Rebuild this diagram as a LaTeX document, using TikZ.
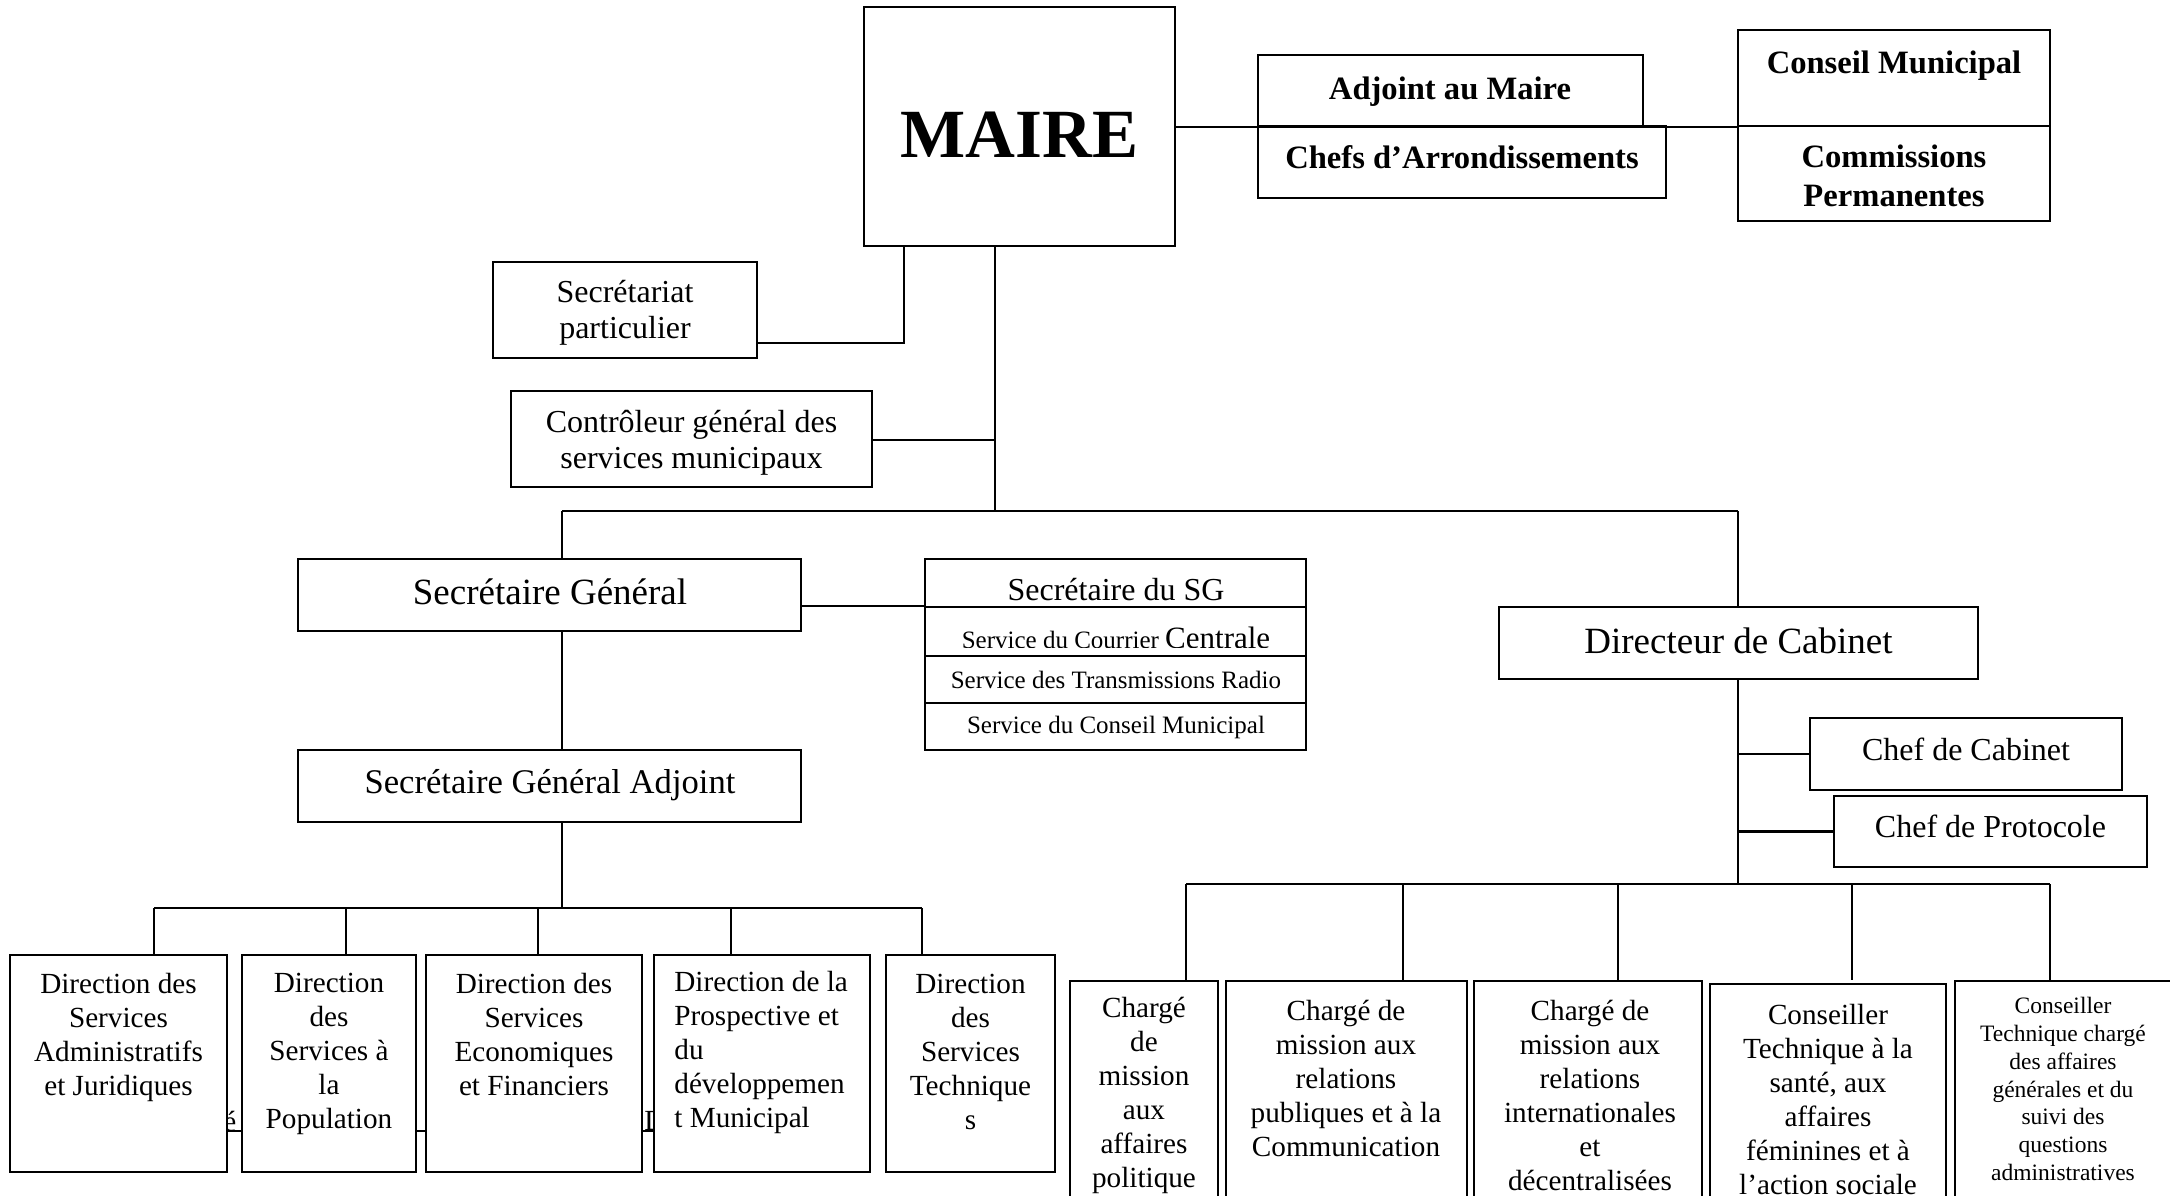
\documentclass[tikz,border=0pt]{standalone}
\usepackage{fontspec}
\setmainfont{Liberation Serif}
\usetikzlibrary{fit}
\tikzset{
  box/.style={draw, line width=1.1pt, fill=white, inner sep=0pt, rectangle},
  conn/.style={line width=1.1pt},
  txt/.style={inner sep=0pt, align=center},
  fbig/.style={font=\fontsize{34.5}{40}\selectfont\bfseries},
  fbold/.style={font=\fontsize{16.3}{19.5}\selectfont\bfseries},
  flarge/.style={font=\fontsize{18.5}{21}\selectfont},
  fsga/.style={font=\fontsize{17.3}{20}\selectfont},
  fmid/.style={font=\fontsize{16}{18.25}\selectfont},
  fserv/.style={font=\fontsize{12.5}{14}\selectfont},
  fbot/.style={font=\fontsize{14.6}{17}\selectfont},
  fsmall/.style={font=\fontsize{11.75}{13.85}\selectfont},
}
\begin{document}
\begin{tikzpicture}[x=0.5pt,y=-0.5pt]
\useasboundingbox (0,0) rectangle (2170,1195);
\clip (0,0) rectangle (2170,1195);
\fill[white] (0,0) rectangle (2170,1195);

% hidden underlined text behind the directions
\node[fbot, inner sep=0pt, anchor=west] (hid1) at (223,1121) {é};
\node[fbot, inner sep=0pt, anchor=west] (hid2) at (644,1121) {D};
\draw[line width=1.4pt] (hid1.west |- 0,1131) -- (hid2.east |- 0,1131);

% top boxes
\node[box, fit={(864,7) (1175,246)}] (maire) {};
\node[box, fit={(1258,55) (1643,126)}] (adj) {};
\node[box, fit={(1258,126) (1666,198)}] (chefs) {};
\node[box, fit={(1738,30) (2050,126)}] (cons) {};
\node[box, fit={(1738,126) (2050,221)}] (cmp) {};
\node[box, fit={(493,262) (757,358)}] (sp) {};
\node[box, fit={(511,391) (872,487)}] (ctrl) {};

% secretariat general
\node[box, fit={(298,559) (801,631)}] (sg) {};
\node[box, fit={(925,559) (1306,607)}] (st1) {};
\node[box, fit={(925,607) (1306,656)}] (st2) {};
\node[box, fit={(925,656) (1306,703)}] (st3) {};
\node[box, fit={(925,703) (1306,750)}] (st4) {};
\node[box, fit={(298,750) (801,822)}] (sga) {};

% directions
\node[box, fit={(10,955) (227,1172)}] (b1) {};
\node[box, fit={(242,955) (416,1172)}] (b2) {};
\node[box, fit={(426,955) (642,1172)}] (b3) {};
\node[box, fit={(654,955) (870,1172)}] (b4) {};
\node[box, fit={(886,955) (1055,1172)}] (b5) {};

% cabinet
\node[box, fit={(1499,607) (1978,679)}] (dc) {};
\node[box, fit={(1810,718) (2122,790)}] (cc) {};
\node[box, fit={(1834,796) (2147,867)}] (cp) {};
\node[box, fit={(1070,981) (1218,1230)}] (r1) {};
\node[box, fit={(1226,981) (1467,1230)}] (r2) {};
\node[box, fit={(1474,981) (1702,1230)}] (r3) {};
\node[box, fit={(1710,984) (1946,1230)}] (r4) {};
\node[box, fit={(1955,981) (2178,1230)}] (r5) {};

% connectors
\coordinate (j1) at (904,343);
\coordinate (spine) at (995,511);
\coordinate (j2) at (995,440);
\coordinate (hl) at (562,511);
\coordinate (hr) at (1738,511);
\coordinate (j3) at (925,606);
\coordinate (bl) at (562,908);
\coordinate (d1) at (154,908);
\coordinate (d2) at (346,908);
\coordinate (d3) at (538,908);
\coordinate (d4) at (731,908);
\coordinate (d5) at (922,908);
\coordinate (rj) at (1738,884);
\coordinate (e1) at (1186,884);
\coordinate (e2) at (1403,884);
\coordinate (e3) at (1618,884);
\coordinate (e4) at (1852,884);
\coordinate (e5) at (2050,884);
\coordinate (e4b) at (1852,980);

\draw[conn] (maire.east |- adj.south) -- (cons.south west);
\draw[conn] (sp.east |- j1) -- (j1) -- (j1 |- maire.south);
\draw[conn] (maire.south -| spine) -- (spine);
\draw[conn] (ctrl.east |- j2) -- (j2);
\draw[conn] (hl) -- (hr);
\draw[conn] (hl) -- (hl |- sg.north);
\draw[conn] (hr) -- (hr |- dc.north);
\draw[conn] (sg.east |- j3) -- (j3);
\draw[conn] (hl |- sg.south) -- (hl |- sga.north);
\draw[conn] (hl |- sga.south) -- (bl);
\draw[conn] (d1) -- (d5);
\draw[conn] (d1) -- (d1 |- b1.north);
\draw[conn] (d2) -- (d2 |- b2.north);
\draw[conn] (d3) -- (d3 |- b3.north);
\draw[conn] (d4) -- (d4 |- b4.north);
\draw[conn] (d5) -- (d5 |- b5.north);
\draw[conn] (rj |- dc.south) -- (rj);
\draw[conn] (rj |- cc.west) -- (cc.west);
\draw[conn] (rj |- cp.west) -- (cp.west);
\draw[conn] (e1) -- (e5);
\draw[conn] (e1) -- (e1 |- r1.north);
\draw[conn] (e2) -- (e2 |- r2.north);
\draw[conn] (e3) -- (e3 |- r3.north);
\draw[conn] (e4) -- (e4b);
\draw[conn] (e5) -- (e5 |- r5.north);

% texts
\node[txt, fbig] (tmaire) at (1019.5,135) {MAIRE};
\node[txt, fbold] (tadj) at (1450,92) {Adjoint au Maire};
\node[txt, fbold] (tchefs) at (1462,157) {Chefs d’Arrondissements};
\node[txt, fbold] (tcons) at (1894,66) {Conseil Municipal};
\node[txt, fbold] (tcmp) at (1894,176) {Commissions\\Permanentes};
\node[txt, fmid] (tsp) at (625,313) {Secrétariat\\particulier};
\node[txt, fmid] (tctrl) at (691.5,443) {Contrôleur général des\\services municipaux};
\node[txt, flarge] (tsg) at (550,592) {Secrétaire Général};
\node[txt, fsga] (tsga) at (550,785) {Secrétaire Général Adjoint};
\node[txt, flarge] (tdc) at (1738.5,641) {Directeur de Cabinet};
\node[txt, fmid] (tcc) at (1966,749) {Chef de Cabinet};
\node[txt, fmid] (tcp) at (1990.5,826) {Chef de Protocole};

\begin{scope}
\clip (925,559) rectangle (1306,602);
\node[inner sep=0pt, anchor=base, fmid] (tst1) at (1116,600) {Secrétaire du SG};
\end{scope}
\begin{scope}
\clip (925,607) rectangle (1306,647);
\node[inner sep=0pt, anchor=base, fserv] (tst2) at (1116,648) {Service du Courrier {\fontsize{15.5}{17}\selectfont Centrale}};
\end{scope}
\node[txt, fserv] (tst3) at (1116,680) {Service des Transmissions Radio};
\node[txt, fserv] (tst4) at (1116,727) {Service du Conseil Municipal};

\node[txt, fbot] (tb1) at (118.5,1037) {Direction des\\Services\\Administratifs\\et Juridiques};
\node[txt, fbot] (tb2) at (329,1054) {Direction\\des\\Services à\\la\\Population};
\node[txt, fbot] (tb3) at (534,1034) {Direction des\\Services\\Economiques\\et Financiers};
\node[inner sep=0pt, align=left, fbot, anchor=west] (tb4) at (674,1052) {Direction de la\\Prospective et\\du\\développemen\\t Municipal};
\node[txt, fbot] (tb5) at (970.5,1052) {Direction\\des\\Services\\Technique\\s};

\node[txt, fbot] (tr1) at (1144,1095) {Chargé\\de\\mission\\aux\\affaires\\politique};
\node[txt, fbot] (tr2) at (1346,1078) {Chargé de\\mission aux\\relations\\publiques et à la\\Communication};
\node[txt, fbot] (tr3) at (1590,1095) {Chargé de\\mission aux\\relations\\internationales\\et\\décentralisées};
\node[txt, fbot] (tr4) at (1828,1099) {Conseiller\\Technique à la\\santé, aux\\affaires\\féminines et à\\l’action sociale};
\node[txt, fsmall] (tr5) at (2063,1089) {Conseiller\\Technique chargé\\des affaires\\générales et du\\suivi des\\questions\\administratives};
\end{tikzpicture}
\end{document}
